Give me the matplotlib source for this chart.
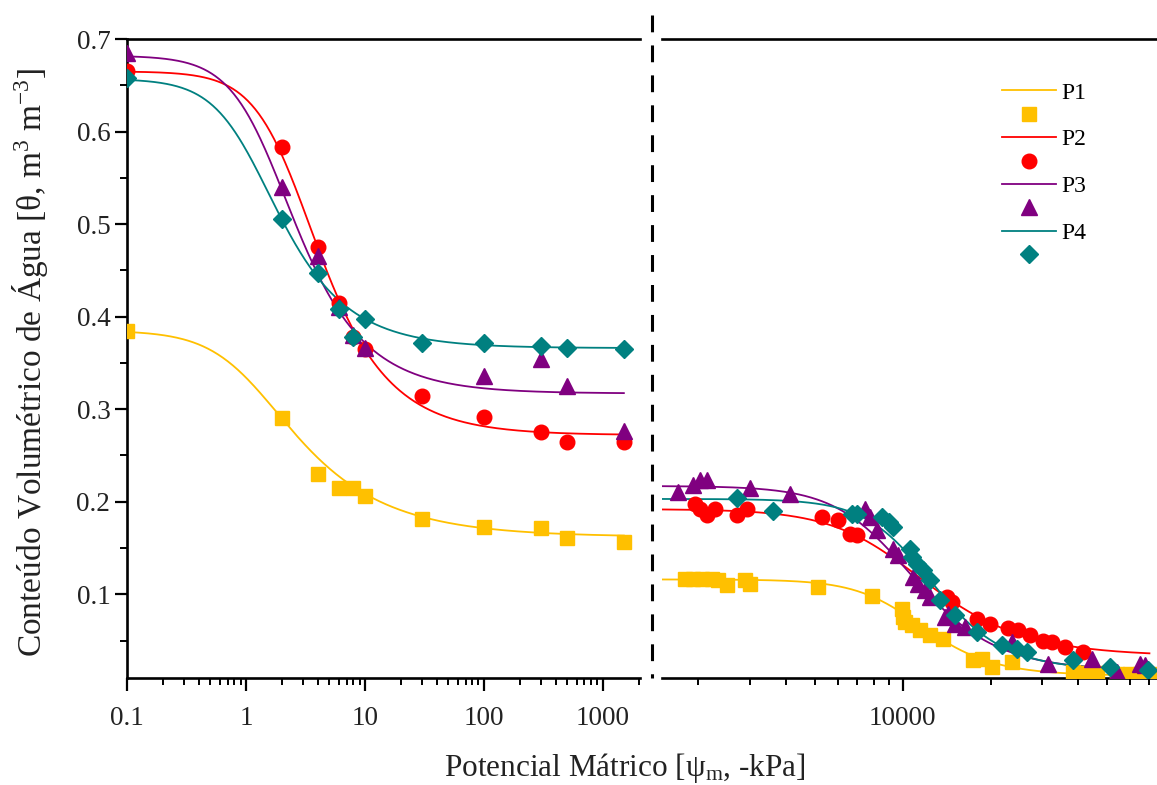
import numpy as np
import matplotlib
matplotlib.use("Agg")
import matplotlib.pyplot as plt
from matplotlib.lines import Line2D
from matplotlib.ticker import FixedLocator, NullFormatter

plt.rcParams['font.family'] = ['Liberation Serif', 'DejaVu Serif']
plt.rcParams['mathtext.fontset'] = 'custom'
plt.rcParams['mathtext.rm'] = 'Liberation Serif'
plt.rcParams['mathtext.it'] = 'Liberation Serif:italic'

series = ["P1", "P2", "P3", "P4"]
colors = ["#FFC000", "#FF0000", "#800080", "#008080"]
markers = ["s", "o", "^", "D"]
marker_sizes = [9.5, 10.5, 11.5, 9.0]

# ---- Pressure-plate range (kPa) ----
psi_low_p1 = [0.1, 2, 4, 6, 8, 10, 30, 100, 300, 500, 1500]
theta_low_p1 = [0.385, 0.290, 0.230, 0.215, 0.215, 0.206, 0.181, 0.173, 0.172, 0.161, 0.156]
psi_low_p2 = [0.1, 2, 4, 6, 8, 10, 30, 100, 300, 500, 1500]
theta_low_p2 = [0.665, 0.583, 0.475, 0.415, 0.378, 0.365, 0.314, 0.291, 0.275, 0.264, 0.265]
psi_low_p3 = [0.1, 2, 4, 6, 8, 10, 100, 300, 500, 1500]
theta_low_p3 = [0.685, 0.540, 0.466, 0.410, 0.380, 0.366, 0.336, 0.354, 0.325, 0.276]
psi_low_p4 = [0.1, 2, 4, 6, 8, 10, 30, 100, 300, 500, 1500]
theta_low_p4 = [0.658, 0.505, 0.447, 0.408, 0.378, 0.397, 0.372, 0.372, 0.368, 0.366, 0.365]

# ---- Dew-point range (kPa) ----
psi_high_p1 = [1796, 1919, 2050, 2220, 2330, 2500, 2880, 3000, 5140, 7830, 9920, 10050,
               10180, 10735, 11460, 12400, 13700, 17450, 18630, 20180, 23630, 38400,
               41600, 46200, 54000, 60000, 64900, 72000]
theta_high_p1 = [0.117, 0.117, 0.117, 0.117, 0.115, 0.110, 0.115, 0.111, 0.108, 0.098,
                 0.0845, 0.0755, 0.070, 0.0665, 0.061, 0.0557, 0.052, 0.0286, 0.0305,
                 0.0214, 0.0268, 0.016, 0.015, 0.015, 0.014, 0.014, 0.014, 0.014]
psi_high_p2 = [1945, 2020, 2133, 2276, 2700, 2922, 5280, 6015, 6600, 6960, 14140, 14720,
               17920, 19900, 23000, 24900, 27300, 30300, 32400, 35900, 41600]
theta_high_p2 = [0.198, 0.192, 0.1854, 0.1926, 0.1854, 0.1926, 0.1836, 0.180, 0.1656,
                 0.1638, 0.097, 0.0917, 0.0737, 0.0683, 0.063, 0.061, 0.0557, 0.050,
                 0.0485, 0.043, 0.0376]
psi_high_p3 = [1704, 1919, 2022, 2133, 3000, 4110, 7430, 7760, 8150, 9285, 9660, 10870,
               11310, 11920, 12400, 13970, 14330, 15100, 16340, 23630, 31500, 44400,
               54000, 64900, 67400]
theta_high_p3 = [0.2106, 0.2178, 0.2232, 0.2232, 0.2143, 0.2088, 0.1926, 0.1836, 0.169,
                 0.1494, 0.142, 0.1187, 0.1116, 0.1043, 0.097, 0.0755, 0.079, 0.0683,
                 0.0647, 0.0485, 0.025, 0.0305, 0.016, 0.025, 0.0233]
psi_high_p4 = [2700, 3605, 6690, 6960, 8475, 9000, 9285, 10590, 10735, 11160, 11770, 12400,
               13420, 15100, 17920, 21840, 24570, 26560, 38400, 51250, 69400]
theta_high_p4 = [0.2045, 0.190, 0.187, 0.187, 0.1836, 0.178, 0.1727, 0.1494, 0.140, 0.133,
                 0.126, 0.115, 0.0935, 0.0773, 0.0592, 0.0449, 0.0413, 0.0376, 0.0286,
                 0.0214, 0.0178]

# ---- van Genuchten fit parameters ----
low_theta_r = [0.162, 0.272, 0.317, 0.366]
low_theta_s = [0.385, 0.665, 0.682, 0.657]
low_alpha = [0.925, 0.414, 0.66, 0.919]
low_n = [1.7, 2.0, 2.0, 2.0]

high_theta_r = [0.012, 0.033, 0.017, 0.018]
high_theta_s = [0.116, 0.192, 0.217, 0.203]
high_alpha = [9.4e-5, 1.014e-4, 1.05e-4, 8.7e-5]
high_n = [4.0, 3.0, 3.5, 4.0]


def van_genuchten(h, tr, ts, a, n):
    m = 1.0 - 1.0 / n
    return tr + (ts - tr) / (1.0 + (a * h) ** n) ** m


psi_low = [psi_low_p1, psi_low_p2, psi_low_p3, psi_low_p4]
theta_low = [theta_low_p1, theta_low_p2, theta_low_p3, theta_low_p4]
psi_high = [psi_high_p1, psi_high_p2, psi_high_p3, psi_high_p4]
theta_high = [theta_high_p1, theta_high_p2, theta_high_p3, theta_high_p4]

W, H = 1157, 785
fig = plt.figure(figsize=(W / 100, H / 100), dpi=100)
fig.patch.set_facecolor("white")

bottom = (H - 678) / H
height = (678 - 39) / H
ax_l = fig.add_axes([127 / W, bottom, (640 - 127) / W, height])
ax_r = fig.add_axes([662 / W, bottom, (W - 662) / W, height])

h_low = np.logspace(-1, np.log10(1500), 400)
h_high = np.logspace(np.log10(1500), np.log10(70000), 400)

for i in range(4):
    ax_l.plot(h_low, van_genuchten(h_low, low_theta_r[i], low_theta_s[i], low_alpha[i], low_n[i]),
              color=colors[i], lw=1.3, zorder=2)
    ax_r.plot(h_high, van_genuchten(h_high, high_theta_r[i], high_theta_s[i], high_alpha[i], high_n[i]),
              color=colors[i], lw=1.3, zorder=2)
for i in range(4):
    ax_l.plot(psi_low[i], theta_low[i], ls="none", marker=markers[i], ms=marker_sizes[i],
              color=colors[i], mec=colors[i], zorder=3 + i)
    ax_r.plot(psi_high[i], theta_high[i], ls="none", marker=markers[i], ms=marker_sizes[i],
              color=colors[i], mec=colors[i], zorder=3 + i)

ymin, ymax = 0.0095, 0.7
for ax in (ax_l, ax_r):
    ax.set_xscale("log")
    ax.set_ylim(ymin, ymax)
    ax.set_facecolor("none")
    for s in ax.spines.values():
        s.set_linewidth(1.9)
        s.set_color("black")
    ax.spines["right"].set_visible(False)

ax_l.set_xlim(0.1, 2050)
ax_r.set_xlim(1500, 74300)
ax_r.spines["left"].set_visible(False)

# y axis
ax_l.yaxis.set_major_locator(FixedLocator([0.1, 0.2, 0.3, 0.4, 0.5, 0.6, 0.7]))
ax_l.yaxis.set_minor_locator(FixedLocator([0.05, 0.15, 0.25, 0.35, 0.45, 0.55, 0.65]))
ax_l.set_yticklabels(["0.1", "0.2", "0.3", "0.4", "0.5", "0.6", "0.7"])
ax_r.set_yticks([])
ax_r.yaxis.set_minor_locator(FixedLocator([]))

# x axis
ax_l.xaxis.set_major_locator(FixedLocator([0.1, 1, 10, 100, 1000]))
ax_l.set_xticklabels(["0.1", "1", "10", "100", "1000"])
minor_l = [m * 10.0 ** e for e in range(-1, 4) for m in range(2, 10)]
ax_l.xaxis.set_minor_locator(FixedLocator(minor_l))
ax_l.xaxis.set_minor_formatter(NullFormatter())

ax_r.xaxis.set_major_locator(FixedLocator([10000]))
ax_r.set_xticklabels(["10000"])
minor_r = [m * 1000.0 for m in range(2, 10)] + [m * 10000.0 for m in range(2, 8)]
ax_r.xaxis.set_minor_locator(FixedLocator(minor_r))
ax_r.xaxis.set_minor_formatter(NullFormatter())

for ax in (ax_l, ax_r):
    ax.tick_params(axis="both", which="major", direction="out", length=9, width=1.6,
                   labelsize=19.5, pad=3, colors="black")
    ax.tick_params(axis="both", which="minor", direction="out", length=5, width=1.4)
    ax.tick_params(axis="x", which="major", pad=11)
    ax.tick_params(top=False, right=False, which="both")
ax_r.tick_params(axis="y", which="both", left=False, labelleft=False)

for lab in ax_l.get_yticklabels() + ax_l.get_xticklabels() + ax_r.get_xticklabels():
    lab.set_color("#222222")

# Axis titles
fig.text(30 / W, 1 - 362 / H, "Conteúdo Volumétrico de Água [θ, m$^{3}$ m$^{-3}$]",
         rotation=90, ha="center", va="center", fontsize=24, color="#222222")
fig.text(625 / W, 1 - 768 / H, "Potencial Mátrico [ψ$_{\\mathrm{m}}$, -kPa]",
         ha="center", va="center", fontsize=22.5, color="#222222")

# Axis break marker
fig.add_artist(Line2D([652 / W, 652 / W], [1 - 15 / H, 1 - 678 / H], transform=fig.transFigure,
                      color="black", lw=2.2, linestyle=(0, (5.5, 4.3))))

# Legend: a line and a marker for each soil
handles, labels = [], []
for i in range(4):
    handles.append(Line2D([], [], color=colors[i], lw=1.3))
    labels.append(series[i])
    handles.append(Line2D([], [], ls="none", marker=markers[i], ms=marker_sizes[i],
                          color=colors[i]))
    labels.append("")
ax_r.legend(handles, labels, loc="upper left", bbox_to_anchor=(1002 / W, 1 - 82 / H),
            bbox_transform=fig.transFigure, frameon=False, fontsize=17, handlelength=2.3,
            handletextpad=0.2, labelspacing=0.08, borderpad=0, borderaxespad=0)

fig.savefig("out.png", dpi=100, facecolor="white")
